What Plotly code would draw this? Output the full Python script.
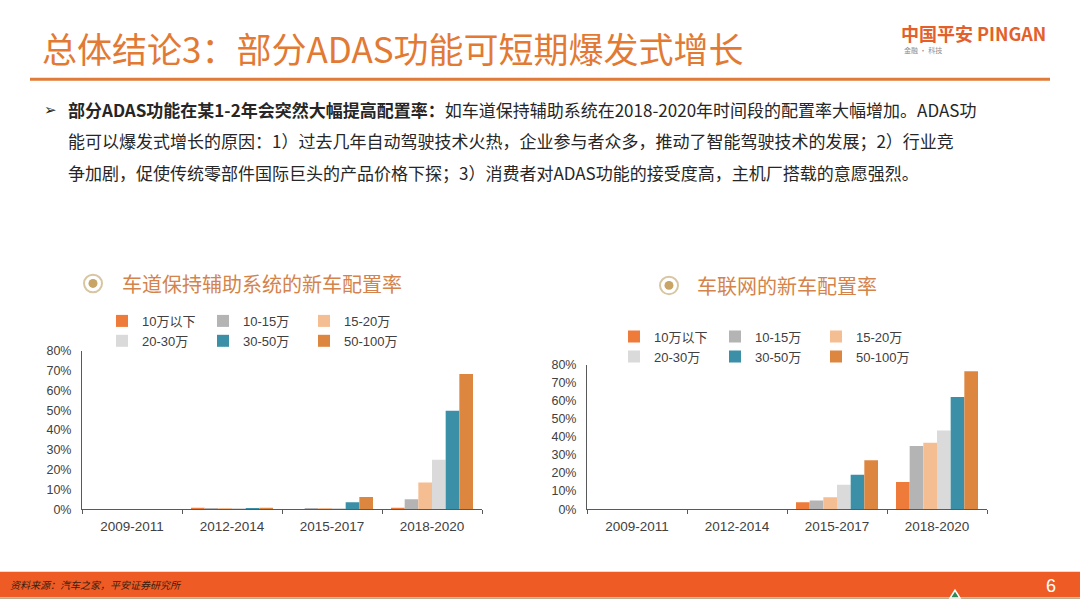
import plotly.graph_objects as go

W, H = 1080, 608

categories = ["2009-2011", "2012-2014", "2015-2017", "2018-2020"]
series_names = ["10万以下", "10-15万", "15-20万", "20-30万", "30-50万", "50-100万"]
series_colors = ["#EE7B3A", "#B4B4B4", "#F5BE92", "#DADADA", "#3B8FA6", "#DD8640"]
legend_groups = ["g1", "g2", "g3", "g1", "g2", "g3"]

# 车道保持辅助系统的新车配置率 (%)
lka_10 = [0, 0.7, 0, 0.7]
lka_10_15 = [0, 0.2, 0.2, 5.0]
lka_15_20 = [0, 0.2, 0.2, 13.5]
lka_20_30 = [0, 0.2, 0.3, 25.0]
lka_30_50 = [0, 0.2, 3.5, 49.8]
lka_50_100 = [0, 0.7, 6.2, 68.3]
lka_values = [lka_10, lka_10_15, lka_15_20, lka_20_30, lka_30_50, lka_50_100]

# 车联网的新车配置率 (%)
iov_10 = [0, 0, 3.8, 15.0]
iov_10_15 = [0, 0, 4.8, 35.0]
iov_15_20 = [0, 0, 6.6, 36.8]
iov_20_30 = [0, 0, 13.5, 43.5]
iov_30_50 = [0, 0, 19.0, 62.0]
iov_50_100 = [0, 0, 27.0, 76.3]
iov_values = [iov_10, iov_10_15, iov_15_20, iov_20_30, iov_30_50, iov_50_100]

y_ticks = [0, 10, 20, 30, 40, 50, 60, 70, 80]

title_text = "总体结论3：部分ADAS功能可短期爆发式增长"
chart1_title = "车道保持辅助系统的新车配置率"
chart2_title = "车联网的新车配置率"
body_lines = [
    "<b>部分ADAS功能在某1-2年会突然大幅提高配置率：</b>如车道保持辅助系统在2018-2020年时间段的配置率大幅增加。ADAS功",
    "能可以爆发式增长的原因：1）过去几年自动驾驶技术火热，企业参与者众多，推动了智能驾驶技术的发展；2）行业竞",
    "争加剧，促使传统零部件国际巨头的产品价格下探；3）消费者对ADAS功能的接受度高，主机厂搭载的意愿强烈。",
]
source_text = "资料来源：汽车之家，平安证券研究所"
page_no = "6"

CJK = "Noto Sans CJK SC"
LAT = "Liberation Sans, Noto Sans CJK SC"


def px(x):
    return x / W


def py(y):
    return 1 - y / H


fig = go.Figure()

for i, name in enumerate(series_names):
    fig.add_trace(go.Bar(
        x=categories, y=lka_values[i], name=name,
        marker=dict(color=series_colors[i], line=dict(width=0)),
        legendgroup="a" + legend_groups[i], legend="legend",
        xaxis="x", yaxis="y",
    ))
for i, name in enumerate(series_names):
    fig.add_trace(go.Bar(
        x=categories, y=iov_values[i], name=name,
        marker=dict(color=series_colors[i], line=dict(width=0)),
        legendgroup="b" + legend_groups[i], legend="legend2",
        xaxis="x2", yaxis="y2",
    ))

axis_common_x = dict(
    type="category", showline=True, linecolor="#595959", linewidth=1,
    ticks="outside", tickson="boundaries", ticklen=4, tickcolor="#595959",
    tickfont=dict(family=LAT, size=13.5, color="#404040"), showgrid=False,
    zeroline=False, fixedrange=True, ticklabelstandoff=5,
)
axis_common_y = dict(
    range=[0, 80], tickvals=y_ticks, ticktext=[f"{v}%" for v in y_ticks],
    showline=True, linecolor="#595959", linewidth=1, ticks="",
    tickfont=dict(family=LAT, size=12.5, color="#404040"), showgrid=False,
    zeroline=False, fixedrange=True, ticklabelstandoff=7,
)

legend_common = dict(
    orientation="h", traceorder="grouped", xanchor="left", yanchor="top",
    font=dict(family=LAT, size=13, color="#404040"), entrywidth=56,
    bgcolor="rgba(0,0,0,0)", tracegroupgap=0, itemwidth=30,
)

fig.update_layout(
    width=W, height=H, margin=dict(l=0, r=0, t=0, b=0),
    paper_bgcolor="white", plot_bgcolor="white",
    barmode="group", bargap=0.18, bargroupgap=0,
    xaxis=dict(domain=[px(82), px(482)], anchor="y", **axis_common_x),
    yaxis=dict(domain=[py(514), py(352)], anchor="x", **axis_common_y),
    xaxis2=dict(domain=[px(587), px(987)], anchor="y2", **axis_common_x),
    yaxis2=dict(domain=[py(514), py(366)], anchor="x2", **axis_common_y),
    legend=dict(x=px(102), y=py(306), **legend_common),
    legend2=dict(x=px(614), y=py(322), **legend_common),
    showlegend=True,
)

shapes = []
annotations = []

# header
annotations.append(dict(text=title_text, x=px(40), y=py(41), xref="paper", yref="paper",
                        xanchor="left", yanchor="middle", showarrow=False,
                        font=dict(family=CJK, size=35, color="#E27A34")))
shapes.append(dict(type="line", xref="paper", yref="paper", x0=px(30), x1=px(1050),
                   y0=py(74), y1=py(74), line=dict(color="#E07B39", width=3)))
annotations.append(dict(text="<b>中国平安 PINGAN</b>", x=px(1048), y=py(27), xref="paper", yref="paper",
                        xanchor="right", yanchor="middle", showarrow=False,
                        font=dict(family=CJK, size=18, color="#E4602A")))
annotations.append(dict(text="金融 · 科技", x=px(902), y=py(44), xref="paper", yref="paper",
                        xanchor="left", yanchor="middle", showarrow=False,
                        font=dict(family=CJK, size=7, color="#8C8C8C")))

# body
annotations.append(dict(text="➢", x=px(42), y=py(105), xref="paper", yref="paper",
                        xanchor="left", yanchor="middle", showarrow=False,
                        font=dict(family="DejaVu Sans", size=15, color="#262626")))
for k, line in enumerate(body_lines):
    annotations.append(dict(text=line, x=px(66), y=py(105 + 32 * k), xref="paper", yref="paper",
                            xanchor="left", yanchor="middle", showarrow=False,
                            font=dict(family=CJK, size=17, color="#262626")))

# chart titles with circle icons
for (cx, cy, tx, txt) in [(93, 283, 120, chart1_title), (669, 285, 695, chart2_title)]:
    shapes.append(dict(type="circle", xref="paper", yref="paper",
                       x0=px(cx - 9), x1=px(cx + 9), y0=py(cy + 9), y1=py(cy - 9),
                       line=dict(color="#D8C6A2", width=2), fillcolor="white"))
    shapes.append(dict(type="circle", xref="paper", yref="paper",
                       x0=px(cx - 4.5), x1=px(cx + 4.5), y0=py(cy + 4.5), y1=py(cy - 4.5),
                       line=dict(width=0), fillcolor="#C8A465"))
    annotations.append(dict(text=txt, x=px(tx), y=py(cy), xref="paper", yref="paper",
                            xanchor="left", yanchor="middle", showarrow=False,
                            font=dict(family=CJK, size=20, color="#D4834A")))

# footer
shapes.append(dict(type="rect", xref="paper", yref="paper", x0=0, x1=1, y0=py(604), y1=py(578),
                   line=dict(width=0), fillcolor="#EF5B25", layer="below"))
shapes.append(dict(type="line", xref="paper", yref="paper", x0=0, x1=1, y0=py(605), y1=py(605),
                   line=dict(color="#8A6A3A", width=1)))
shapes.append(dict(type="path", xref="paper", yref="paper",
                   path=f"M {px(950)},{py(605)} L {px(955)},{py(597)} L {px(960)},{py(605)} Z",
                   line=dict(color="white", width=1.5), fillcolor="#2E8B57"))
annotations.append(dict(text=f"<i>{source_text}</i>", x=px(8), y=py(591), xref="paper", yref="paper",
                        xanchor="left", yanchor="middle", showarrow=False,
                        font=dict(family=CJK, size=10, color="#3A1F10")))
annotations.append(dict(text=page_no, x=px(1058), y=py(593), xref="paper", yref="paper",
                        xanchor="right", yanchor="middle", showarrow=False,
                        font=dict(family=LAT, size=18, color="white")))

fig.update_layout(shapes=shapes, annotations=annotations)

fig.write_html("out.html", config={"displayModeBar": False},
               post_script="document.body.style.margin='0';document.body.style.overflow='hidden';")
